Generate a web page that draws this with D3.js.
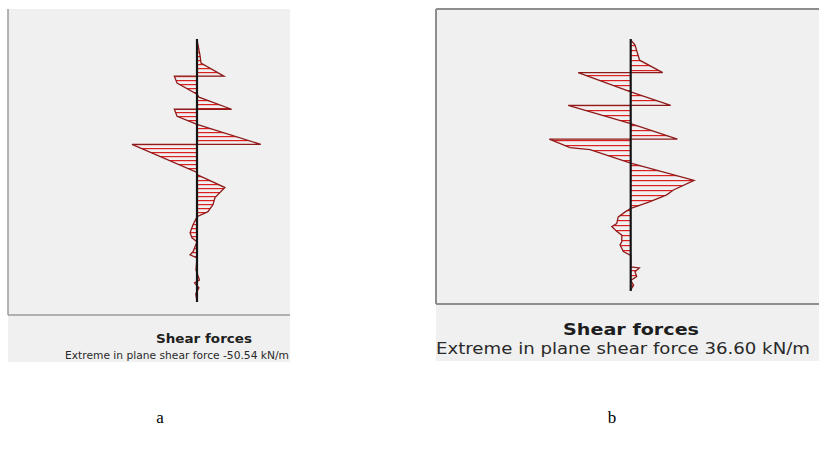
<!DOCTYPE html>
<html>
<head>
<meta charset="utf-8">
<script src="https://cdn.jsdelivr.net/npm/d3@7/dist/d3.min.js"></script>
<style>
  html, body { margin: 0; padding: 0; background: #ffffff; }
  svg { display: block; }
</style>
</head>
<body>
<svg id="fig" width="819" height="452"></svg>
<script>
// Wall a: depth along the wall (m) and in-plane shear force (kN/m)
const depthA = [0, 1.5, 2.3, 3.6, 3.6, 4.3, 5.4, 5.7, 6.9, 6.9, 7.6, 8.4, 10.4, 10.4, 13.2, 13.4,
  14.7, 15.7, 16.4, 17.1, 17.6, 18.4, 19.2, 19.7, 20.1, 21.1, 21.4, 21.7, 22.9, 23.9, 24.2, 24.7, 25.3, 26.0];
const shearA = [0, 2.3, 3.1, 20.9, -17.6, -15.5, 0, 1.5, 26.9, -17.6, -15.5, 0, 49.6, -50.54, 0, 0,
  21.7, 14.0, 12.4, 8.5, 0, -3.1, -5.4, -3.9, 0, -3.1, -5.4, 0, -0.8, 1.9, -1.9, 1.5, -1.0, 0];

// Wall b
const depthB = [0, 0.5, 2.1, 3.4, 3.4, 5.4, 6.8, 6.8, 8.7, 10.3, 10.3, 11.2, 11.4, 12.8,
  14.6, 15.6, 16.1, 16.8, 17.3, 17.5, 17.9, 18.4, 19.1, 19.4, 19.9, 20.3, 21.0, 21.3, 22.0, 22.4,
  23.6, 23.7, 24.1, 24.6, 25.0, 25.5, 26.0];
const shearB = [0, -1.9, -4.0, -14.4, 23.6, 0, -18.0, 28.1, 0, -21.0, 36.60, 27.3, 18.3, 0,
  -28.5, -19.2, -16.2, -8.7, -2.7, 0, 2.6, 5.6, 6.3, 8.5, 6.3, 4.0, 4.0, 4.8, 3.3, 0,
  0, -3.9, -1.9, -2.7, 0, -1.3, 0];

const titles = ["Shear forces", "Shear forces"];
const subtitles = ["Extreme in plane shear force -50.54 kN/m", "Extreme in plane shear force 36.60 kN/m"];
const panelLetters = ["a", "b"];

const svg = d3.select("#fig");
const defs = svg.append("defs");

const panels = [
  {
    id: "A", depth: depthA, shear: shearA,
    box: { x: 8, y: 9, w: 282, h: 306 }, cap: { y: 315, h: 47 },
    borders: ["left", "bottom"], borderColor: "#9c9c9c", borderWidth: 1.5,
    yRange: [40, 301], axisX: 197, halfWidth: 65, flip: false, hatch: 4,
    title: { x: 204, y: 343, size: 12.5, len: 96 },
    sub: { x: 177, y: 359, size: 11, len: 224 },
    letter: { x: 160, y: 423 }
  },
  {
    id: "B", depth: depthB, shear: shearB,
    box: { x: 436, y: 9, w: 383, h: 295 }, cap: { y: 304, h: 57 },
    borders: ["top", "left", "bottom"], borderColor: "#8e8e8e", borderWidth: 2,
    yRange: [40, 290], axisX: 630.7, halfWidth: 81.4, flip: true, hatch: 5,
    title: { x: 631, y: 335, size: 16.5, len: 136 },
    sub: { x: 623, y: 354, size: 15, len: 374 },
    letter: { x: 612, y: 423 }
  }
];

panels.forEach((p, i) => {
  const g = svg.append("g");

  // panel and caption backgrounds
  g.append("rect").attr("x", p.box.x).attr("y", p.box.y)
    .attr("width", p.box.w).attr("height", p.box.h + p.cap.h)
    .attr("fill", "#f0f0f0");

  const bx0 = p.box.x, bx1 = p.box.x + p.box.w, by0 = p.box.y, by1 = p.box.y + p.box.h;
  const edges = {
    top: [bx0, by0, bx1, by0],
    left: [bx0, by0, bx0, by1],
    bottom: [bx0, by1, bx1, by1]
  };
  p.borders.forEach(k => {
    const e = edges[k];
    g.append("line").attr("x1", e[0]).attr("y1", e[1]).attr("x2", e[2]).attr("y2", e[3])
      .attr("stroke", p.borderColor).attr("stroke-width", p.borderWidth);
  });

  // scales: depth runs downward, shear across
  const maxAbs = d3.max(p.shear, v => Math.abs(v));
  const y = d3.scaleLinear().domain([0, d3.max(p.depth)]).range(p.yRange);
  const x = d3.scaleLinear().domain([-maxAbs, maxAbs])
    .range(p.flip ? [p.axisX + p.halfWidth, p.axisX - p.halfWidth]
                  : [p.axisX - p.halfWidth, p.axisX + p.halfWidth]);

  const pts = p.depth.map((d, k) => ({ d: d, v: p.shear[k] }));

  // horizontal hatch used to fill the diagram
  const pat = defs.append("pattern").attr("id", "hatch" + p.id)
    .attr("patternUnits", "userSpaceOnUse")
    .attr("width", 10).attr("height", p.hatch);
  pat.append("rect").attr("width", 10).attr("height", 1.2).attr("fill", "#dc1e1e");

  const area = d3.area()
    .y(q => y(q.d))
    .x0(x(0))
    .x1(q => x(q.v))
    .curve(d3.curveLinear);

  const line = d3.line()
    .x(q => x(q.v))
    .y(q => y(q.d))
    .curve(d3.curveLinear);

  g.append("path").datum(pts).attr("d", area)
    .attr("fill", "url(#hatch" + p.id + ")").attr("stroke", "none");

  g.append("path").datum(pts).attr("d", line)
    .attr("fill", "none").attr("stroke", "#8e1a1a").attr("stroke-width", 1.3);

  // member axis
  g.append("line")
    .attr("x1", x(0)).attr("x2", x(0))
    .attr("y1", y(0) - 1).attr("y2", y(d3.max(p.depth)) + 1)
    .attr("stroke", "#141414").attr("stroke-width", 2.2);

  // captions
  g.append("text").attr("x", p.title.x).attr("y", p.title.y)
    .attr("text-anchor", "middle")
    .attr("font-family", "'DejaVu Sans', Verdana, sans-serif")
    .attr("font-weight", "bold").attr("font-size", p.title.size)
    .attr("fill", "#1e1e1e")
    .attr("textLength", p.title.len).attr("lengthAdjust", "spacingAndGlyphs")
    .text(titles[i]);

  g.append("text").attr("x", p.sub.x).attr("y", p.sub.y)
    .attr("text-anchor", "middle")
    .attr("font-family", "'DejaVu Sans', Verdana, sans-serif")
    .attr("font-size", p.sub.size)
    .attr("fill", "#2a2a2a")
    .attr("textLength", p.sub.len).attr("lengthAdjust", "spacingAndGlyphs")
    .text(subtitles[i]);

  svg.append("text").attr("x", p.letter.x).attr("y", p.letter.y)
    .attr("text-anchor", "middle")
    .attr("font-family", "'Liberation Serif', 'Times New Roman', serif")
    .attr("font-size", 17).attr("fill", "#000")
    .text(panelLetters[i]);
});
</script>
</body>
</html>
